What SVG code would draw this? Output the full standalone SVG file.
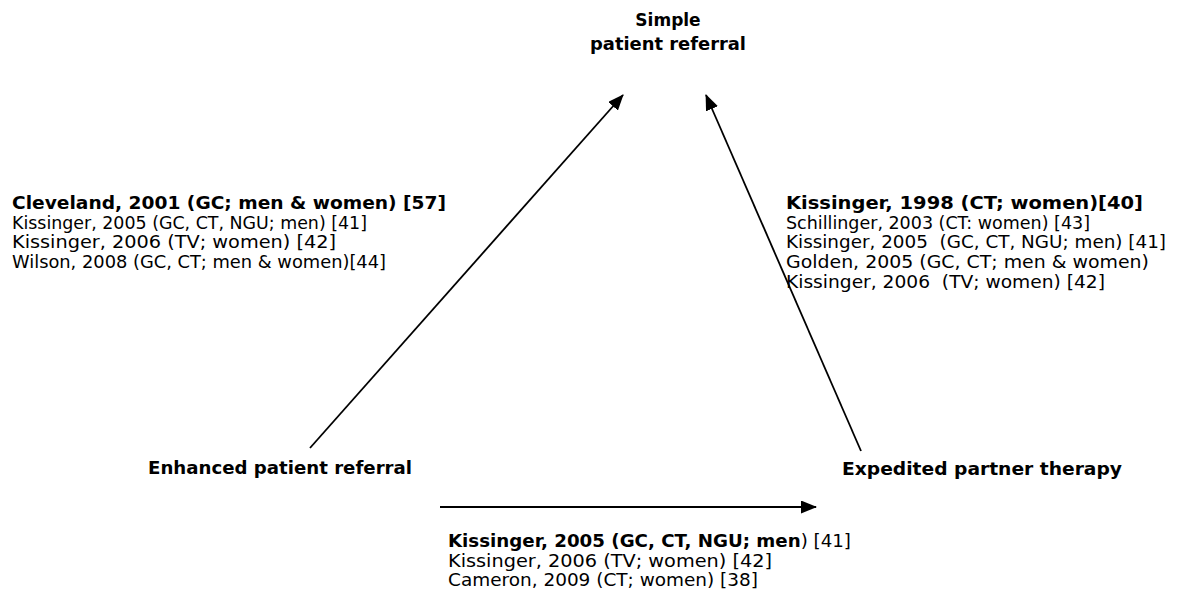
<svg xmlns="http://www.w3.org/2000/svg" width="1182" height="606" viewBox="0 0 1182 606">
<style>
text{font-family:"DejaVu Sans",Verdana,sans-serif;font-size:17px;fill:#000}
.b{font-weight:bold}
.c{text-anchor:middle}
.ln{stroke:#000;stroke-width:1.8;fill:none}
</style>
<defs>
<marker id="ah" viewBox="0 0 16 13" refX="15" refY="6.5" markerWidth="16" markerHeight="13" markerUnits="userSpaceOnUse" orient="auto">
<path d="M0,0 L16,6.5 L0,13 z" fill="#000"/>
</marker>
</defs>
<rect width="1182" height="606" fill="#fff"/>
<g id="connectors">
<line class="ln" x1="310" y1="448" x2="623" y2="95" marker-end="url(#ah)"/>
<line class="ln" x1="861" y1="451" x2="706" y2="95" marker-end="url(#ah)"/>
<line class="ln" x1="440" y1="507" x2="816" y2="507" marker-end="url(#ah)"/>
</g>
<g id="node-simple">
<text class="b c" x="668" y="26">Simple</text>
<text class="b c" x="668" y="50" textLength="156" lengthAdjust="spacingAndGlyphs">patient referral</text>
</g>
<g id="node-enhanced">
<text class="b" x="148" y="474" textLength="264" lengthAdjust="spacingAndGlyphs">Enhanced patient referral</text>
</g>
<g id="node-ept">
<text class="b" x="842" y="475" textLength="280" lengthAdjust="spacingAndGlyphs">Expedited partner therapy</text>
</g>
<g id="label-left">
<text class="b" x="12" y="209" textLength="434" lengthAdjust="spacingAndGlyphs">Cleveland, 2001 (GC; men &amp; women) [57]</text>
<text x="12" y="228.7" textLength="355" lengthAdjust="spacingAndGlyphs">Kissinger, 2005 (GC, CT, NGU; men) [41]</text>
<text x="12" y="248.4" textLength="324" lengthAdjust="spacingAndGlyphs">Kissinger, 2006 (TV; women) [42]</text>
<text x="12" y="268.1" textLength="374" lengthAdjust="spacingAndGlyphs">Wilson, 2008 (GC, CT; men &amp; women)[44]</text>
</g>
<g id="label-right">
<text class="b" x="786" y="209" textLength="357" lengthAdjust="spacingAndGlyphs">Kissinger, 1998 (CT; women)[40]</text>
<text x="786" y="228.7" textLength="304" lengthAdjust="spacingAndGlyphs" xml:space="preserve">Schillinger, 2003 (CT: women) [43]</text>
<text x="786" y="248.4" textLength="380" lengthAdjust="spacingAndGlyphs" xml:space="preserve">Kissinger, 2005  (GC, CT, NGU; men) [41]</text>
<text x="786" y="268.1" textLength="363" lengthAdjust="spacingAndGlyphs">Golden, 2005 (GC, CT; men &amp; women)</text>
<text x="786" y="287.8" textLength="319" lengthAdjust="spacingAndGlyphs" xml:space="preserve">Kissinger, 2006  (TV; women) [42]</text>
</g>
<g id="label-bottom">
<text x="448" y="547" textLength="403" lengthAdjust="spacingAndGlyphs"><tspan class="b">Kissinger, 2005 (GC, CT, NGU; men</tspan>) [41]</text>
<text x="448" y="566.5" textLength="324" lengthAdjust="spacingAndGlyphs">Kissinger, 2006 (TV; women) [42]</text>
<text x="448" y="586" textLength="310" lengthAdjust="spacingAndGlyphs">Cameron, 2009 (CT; women) [38]</text>
</g>
</svg>
